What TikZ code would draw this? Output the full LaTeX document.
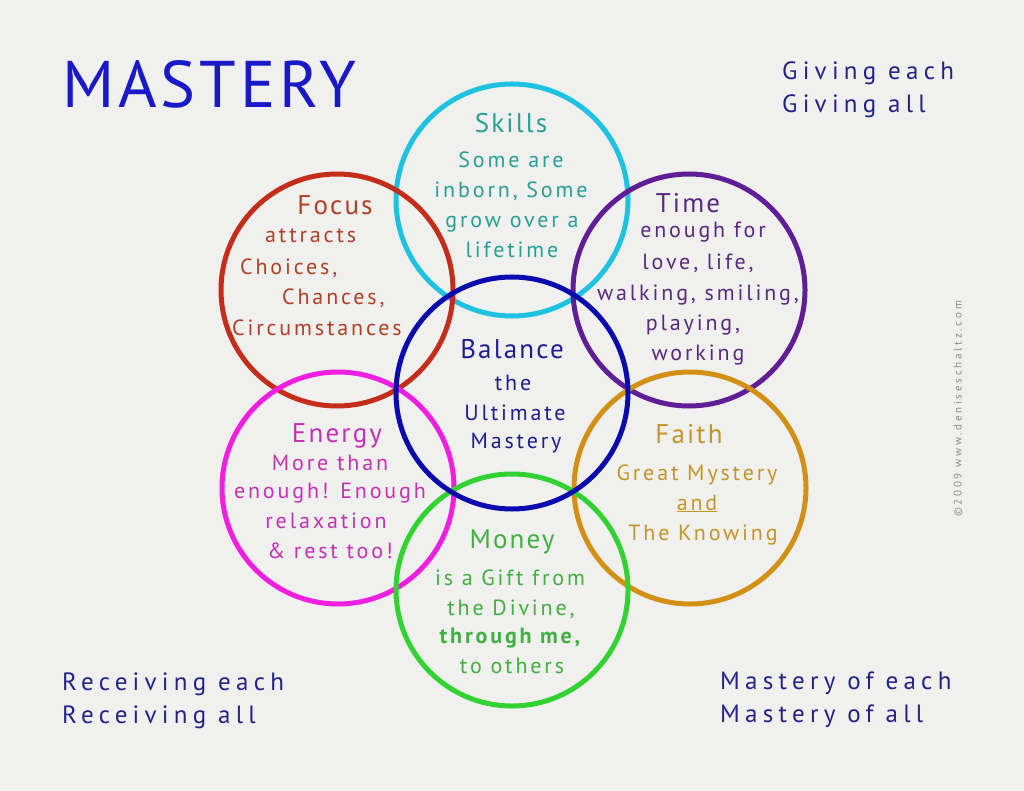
\documentclass[tikz,border=0pt]{standalone}
\usepackage{fontspec}
\setmainfont{PT Sans}[LetterSpace=6]
\newfontfamily\headfont{PT Sans}[LetterSpace=8]
\newfontfamily\bodyfont{PT Sans}[LetterSpace=13]
\newfontfamily\cornerfont{PT Sans}[LetterSpace=21]
\newfontfamily\notefont{PT Sans}[LetterSpace=25]
\usetikzlibrary{positioning}

\definecolor{paper}{RGB}{240,240,238}
\definecolor{titleblue}{RGB}{25,25,200}
\definecolor{navy}{RGB}{35,35,135}
\definecolor{skillsring}{RGB}{30,195,225}
\definecolor{skillstext}{RGB}{40,160,150}
\definecolor{focusring}{RGB}{195,45,25}
\definecolor{focustext}{RGB}{175,65,40}
\definecolor{timering}{RGB}{95,30,150}
\definecolor{timetext}{RGB}{90,40,125}
\definecolor{balancering}{RGB}{10,10,175}
\definecolor{balancetext}{RGB}{30,30,140}
\definecolor{energyring}{RGB}{240,30,225}
\definecolor{energytext}{RGB}{195,50,180}
\definecolor{faithring}{RGB}{210,145,20}
\definecolor{faithtext}{RGB}{195,150,40}
\definecolor{moneyring}{RGB}{50,210,50}
\definecolor{moneytext}{RGB}{65,175,65}
\definecolor{notegray}{RGB}{140,140,140}

\begin{document}
\begin{tikzpicture}[x=1pt,y=-1pt,
        ring/.style={draw, circle, line width=5pt, minimum size=232pt, inner sep=0pt},
        head/.style={anchor=base, inner sep=0pt, font=\headfont\fontsize{27}{30}\selectfont},
        body/.style={anchor=base, inner sep=0pt, font=\bodyfont\fontsize{22}{24}\selectfont},
        corner/.style={anchor=base west, inner sep=0pt, text=navy, font=\cornerfont\fontsize{25}{28}\selectfont}]
        \fill[paper] (0,0) rectangle (1024,791);
        \useasboundingbox (0,0) rectangle (1024,791);

        % rings, the centre one last
        \node[ring, draw=skillsring ] (skills)  at (512,200) {};
        \node[ring, draw=focusring  ] (focus)   at (337,290) {};
        \node[ring, draw=timering   ] (time)    at (689,290) {};
        \node[ring, draw=energyring ] (energy)  at (338,488) {};
        \node[ring, draw=faithring  ] (faith)   at (690,488) {};
        \node[ring, draw=moneyring  ] (money)   at (512,590) {};
        \node[ring, draw=balancering] (balance) at (512,393) {};

        % titles and corners
        \node[anchor=base west, inner sep=0pt, text=titleblue, font=\fontsize{66}{70}\selectfont] (mastery) at (62,108) {MASTERY};
        \node[corner] (give1) at (782, 80) {Giving each};
        \node[corner] (give2) at (782,113) {Giving all};
        \node[corner] (recv1) at ( 62,690) {Receiving each};
        \node[corner] (recv2) at ( 62,723) {Receiving all};
        \node[corner] (mast1) at (720,689) {Mastery of each};
        \node[corner] (mast2) at (720,722) {Mastery of all};
        \node[rotate=90, text=notegray, font=\notefont\fontsize{11}{13}\selectfont] (note) at (958,409) {\textcopyright2009 www.deniseschaltz.com};

        % skills
        \node[head, text=skillstext] (skillsT) at (511,133) {Skills};
        \node[body, text=skillstext] (skills1) at (511,168) {Some are};
        \node[body, text=skillstext] (skills2) at (511,198) {inborn, Some};
        \node[body, text=skillstext] (skills3) at (512,228) {grow over a};
        \node[body, text=skillstext] (skills4) at (512,258) {lifetime};

        % focus
        \node[head, text=focustext] (focusT) at (335,215) {Focus};
        \node[body, text=focustext, anchor=base west] (focus1) at (265,243) {attracts};
        \node[body, text=focustext, anchor=base west] (focus2) at (240,275) {Choices,};
        \node[body, text=focustext, anchor=base west] (focus3) at (282,305) {Chances,};
        \node[body, text=focustext, anchor=base west] (focus4) at (232,335) {Circumstances};

        % time
        \node[head, text=timetext] (timeT) at (688,213) {Time};
        \node[body, text=timetext] (time1) at (703,238) {enough for};
        \node[body, text=timetext] (time2) at (698,270) {love, life,};
        \node[body, text=timetext] (time3) at (698,300) {walking, smiling,};
        \node[body, text=timetext] (time4) at (693,330) {playing,};
        \node[body, text=timetext] (time5) at (698,360) {working};

        % balance
        \node[head, text=balancetext] (balanceT) at (512,358) {Balance};
        \node[body, text=balancetext] (balance1) at (513,390) {the};
        \node[body, text=balancetext] (balance2) at (515,420) {Ultimate};
        \node[body, text=balancetext] (balance3) at (516,448) {Mastery};

        % energy
        \node[head, text=energytext] (energyT) at (337,442) {Energy};
        \node[body, text=energytext] (energy1) at (330,470) {More than};
        \node[body, text=energytext] (energy2) at (330,498) {enough! Enough};
        \node[body, text=energytext] (energy3) at (326,528) {relaxation};
        \node[body, text=energytext] (energy4) at (330,558) {\& rest too!};

        % faith
        \node[head, text=faithtext] (faithT) at (689,443) {Faith};
        \node[body, text=faithtext] (faith1) at (697,480) {Great Mystery};
        \node[body, text=faithtext] (faith2) at (697,510) {\underline{and}};
        \node[body, text=faithtext] (faith3) at (703,540) {The Knowing};

        % money
        \node[head, text=moneytext] (moneyT) at (512,548) {Money};
        \node[body, text=moneytext] (money1) at (510,585) {is a Gift from};
        \node[body, text=moneytext] (money2) at (511,615) {the Divine,};
        \node[body, text=moneytext] (money3) at (510,643) {\bfseries through me,};
        \node[body, text=moneytext] (money4) at (512,673) {to others};
      \end{tikzpicture}
\end{document}
